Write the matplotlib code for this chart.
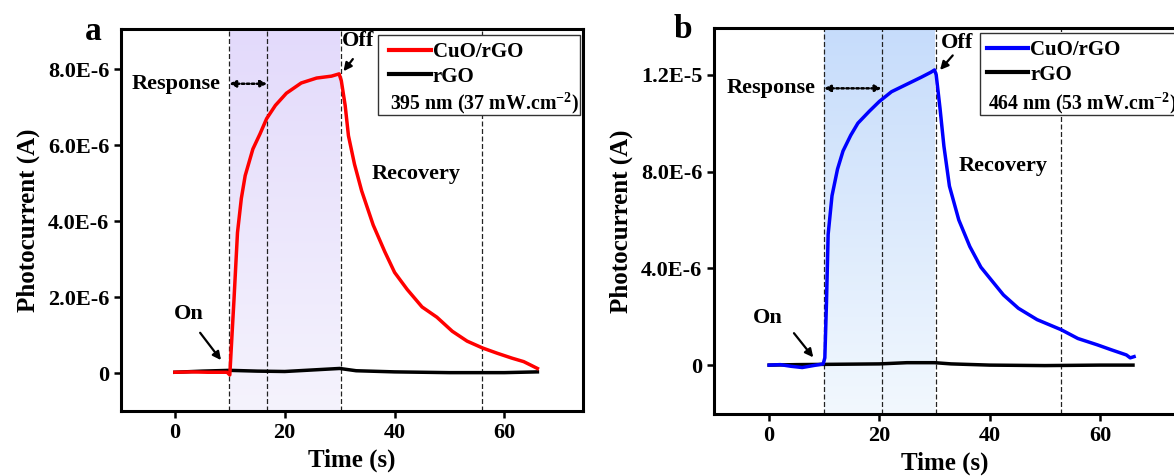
import numpy as np
import matplotlib
matplotlib.use("Agg")
import matplotlib.pyplot as plt
from matplotlib.colors import LinearSegmentedColormap
from matplotlib.lines import Line2D
from matplotlib.patches import Rectangle

plt.rcParams["font.family"] = ["Liberation Serif", "DejaVu Serif"]
plt.rcParams["font.weight"] = "bold"
plt.rcParams["mathtext.fontset"] = "custom"
plt.rcParams["mathtext.rm"] = "Liberation Serif:bold"
plt.rcParams["mathtext.bf"] = "Liberation Serif:bold"
plt.rcParams["mathtext.it"] = "Liberation Serif:bold"

# ---- panel a : 395 nm, values in 1E-6 A ----
t_cuo_a = [0, 3, 6, 9.5, 10.0, 10.4, 10.75, 11.4, 12.1, 12.8, 14.2, 15.5, 16.7, 18.3,
           20.3, 23.0, 25.8, 28.5, 29.9, 30.3, 31.0, 31.6, 32.7, 34.0, 36.1, 38.2,
           40.0, 42.3, 45.0, 47.7, 50.5, 53.2, 56.0, 58.7, 61.4, 63.5, 64.9, 66.0]
i_cuo_a = [0.02, 0.03, 0.02, 0.02, -0.05, 1.0, 1.9, 3.7, 4.6, 5.2, 5.9, 6.3, 6.7, 7.05,
           7.37, 7.64, 7.77, 7.82, 7.88, 7.7, 7.05, 6.25, 5.5, 4.8, 3.9, 3.2,
           2.65, 2.2, 1.74, 1.47, 1.1, 0.84, 0.66, 0.52, 0.39, 0.3, 0.2, 0.12]
t_rgo_a = [0, 5, 10, 15, 20, 25, 30, 33, 40, 50, 60, 66]
i_rgo_a = [0.02, 0.05, 0.07, 0.05, 0.04, 0.08, 0.12, 0.06, 0.03, 0.01, 0.01, 0.03]
vlines_a = [9.9, 16.8, 30.2, 55.9]
shade_a = (10, 30)
yticks_a = [0, 2e-6, 4e-6, 6e-6, 8e-6]
ylabels_a = ["0", "2.0E-6", "4.0E-6", "6.0E-6", "8.0E-6"]

# ---- panel b : 464 nm ----
t_cuo_b = [0, 2, 4, 6, 8, 9.8, 10.1, 10.4, 10.7, 11.4, 12.4, 13.4, 14.8, 16.1, 18.2,
           20.0, 22.2, 24.9, 27.6, 29.3, 30.0, 30.3, 31.0, 31.7, 32.7, 34.4, 36.4,
           38.4, 40.0, 42.5, 45.2, 48.6, 53.0, 56.0, 59.5, 62.1, 64.8, 65.5, 66.2]
i_cuo_b = [0.0, 0.02, -0.05, -0.1, -0.02, 0.05, 0.3, 2.6, 5.4, 7.0, 8.1, 8.85, 9.5, 10.0, 10.5,
           10.9, 11.3, 11.6, 11.9, 12.1, 12.2, 12.0, 10.6, 9.05, 7.4, 6.0, 4.9,
           4.05, 3.6, 2.9, 2.35, 1.88, 1.46, 1.1, 0.84, 0.63, 0.42, 0.3, 0.35]
t_rgo_b = [0, 5, 10, 20, 25, 30, 33, 40, 50, 60, 66]
i_rgo_b = [0.0, 0.02, 0.03, 0.05, 0.1, 0.1, 0.05, 0.0, -0.02, 0.0, 0.0]
vlines_b = [9.95, 20.4, 30.2, 52.9]
shade_b = (10, 30)
yticks_b = [0, 4e-6, 8e-6, 1.2e-5]
ylabels_b = ["0", "4.0E-6", "8.0E-6", "1.2E-5"]
xticks = [0, 20, 40, 60]


def arrow(ax, start, end):
    ax.annotate("", xy=end, xytext=start,
                arrowprops=dict(arrowstyle="-|>", lw=1.6, color="black",
                                mutation_scale=12, shrinkA=0, shrinkB=0))


def panel(fig, rect, t1, i1, t2, i2, color, vl, shade, ylim, xlim, yt, yl,
          shade_cols, wl, resp_y, on, off, rec_xy, leg_x, leg_y, box_x, box_w):
    ax = fig.add_axes(rect)
    cmap = LinearSegmentedColormap.from_list("g", shade_cols)
    grad = np.linspace(0, 1, 256).reshape(-1, 1)
    ax.imshow(grad, extent=[shade[0], shade[1], ylim[0], ylim[1]], origin="lower",
              aspect="auto", cmap=cmap, zorder=0)
    for v in vl:
        ax.axvline(v, color="#222222", lw=0.9, ls=(0, (4, 2)), zorder=1)
    ax.plot(t2, np.array(i2) * 1e-6, color="black", lw=2.5, zorder=3)
    ax.plot(t1, np.array(i1) * 1e-6, color=color, lw=2.5, zorder=4)
    ax.set_xlim(*xlim)
    ax.set_ylim(*ylim)
    ax.set_xticks(xticks)
    ax.set_xticklabels([str(x) for x in xticks])
    ax.set_yticks(yt)
    ax.set_yticklabels(yl)
    ax.tick_params(direction="out", length=5, width=1.8, labelsize=16, top=False, right=False)
    for s in ax.spines.values():
        s.set_linewidth(2.2)
    ax.set_xlabel("Time (s)", fontsize=18, fontweight="bold", labelpad=4)
    ax.set_ylabel("Photocurrent (A)", fontsize=18, fontweight="bold", labelpad=6)

    # response arrow
    ax.annotate("", xy=(vl[0], resp_y), xytext=(vl[1], resp_y),
                arrowprops=dict(arrowstyle="<|-|>", ls=(0, (1, 1)), lw=1.8,
                                color="black", mutation_scale=9, shrinkA=0, shrinkB=0))
    ax.text(vl[0] - 1.5, resp_y, "Response", fontsize=16, fontweight="bold",
            ha="right", va="center")
    ax.text(on[0][0], on[0][1], "On", fontsize=16, fontweight="bold", ha="center", va="center")
    arrow(ax, on[1], on[2])
    ax.text(off[0][0], off[0][1], "Off", fontsize=16, fontweight="bold", ha="center", va="center")
    arrow(ax, off[1], off[2])
    ax.text(rec_xy[0], rec_xy[1], "Recovery", fontsize=16, fontweight="bold",
            ha="left", va="center")

    # legend box
    box = Rectangle((box_x, 0.776), box_w, 0.21, transform=ax.transAxes,
                    facecolor="white", edgecolor="#333333", lw=1.0, zorder=5,
                    clip_on=False)
    ax.add_patch(box)
    handles = [Line2D([], [], color=color, lw=3), Line2D([], [], color="black", lw=3)]
    leg = ax.legend(handles, ["CuO/rGO", "rGO"], loc="upper left",
                    bbox_to_anchor=(leg_x, leg_y), frameon=False, borderpad=0,
                    borderaxespad=0, handlelength=2.0, handletextpad=0.1,
                    labelspacing=0.22, prop=dict(size=15, weight="bold"))
    leg.set_zorder(6)
    ax.text(leg_x + 0.003, 0.806, wl, transform=ax.transAxes, fontsize=14.3,
            fontweight="bold", ha="left", va="center", zorder=7)
    return ax


fig = plt.figure(figsize=(11.74, 4.76), dpi=100)

ax_a = panel(fig, [0.1031, 0.1366, 0.3935, 0.8015], t_cuo_a, i_cuo_a, t_rgo_a, i_rgo_a,
             "#ff0000", vlines_a, shade_a, (-1.0e-6, 9.05e-6), (-9.8, 74.3),
             yticks_a, ylabels_a, ["#f5f3fd", "#e3dafb"],
             "395 nm (37 mW.cm$^{-2}$)", 7.62e-6,
             ((2.6, 1.55e-6), (4.6, 1.06e-6), (8.4, 0.34e-6)),
             ((33.4, 8.74e-6), (32.4, 8.27e-6), (30.7, 7.95e-6)),
             (35.9, 5.24e-6), 0.58, 0.967, 0.556, 0.4375)
ax_b = panel(fig, [0.6082, 0.1303, 0.3935, 0.8107], t_cuo_b, i_cuo_b, t_rgo_b, i_rgo_b,
             "#0000ff", vlines_b, shade_b, (-2.02e-6, 13.93e-6), (-10.0, 73.8),
             yticks_b, ylabels_b, ["#f2f8fe", "#c6dcfb"],
             "464 nm (53 mW.cm$^{-2}$)", 11.44e-6,
             ((-0.2, 1.96e-6), (4.5, 1.32e-6), (8.0, 0.32e-6)),
             ((34.1, 13.33e-6), (33.3, 12.8e-6), (31.0, 12.2e-6)),
             (34.4, 8.25e-6), 0.59, 0.969, 0.576, 1.2)

fig.text(93 / 1174, 1 - 31 / 476, "a", fontsize=24, fontweight="bold", ha="center", va="center")
fig.text(683 / 1174, 1 - 30 / 476, "b", fontsize=24, fontweight="bold", ha="center", va="center")

fig.savefig("out.png", dpi=100)
